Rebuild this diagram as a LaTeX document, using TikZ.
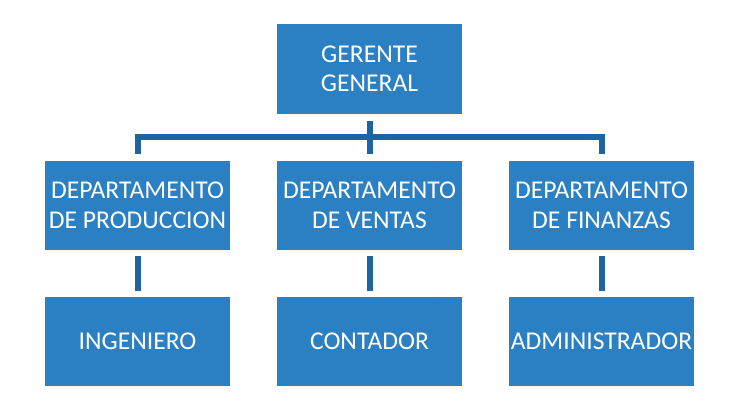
\documentclass[tikz,border=0pt]{standalone}
\usepackage{fontspec}
\setmainfont{Carlito}
\definecolor{boxfill}{RGB}{42,128,194}
\definecolor{linecol}{RGB}{30,100,160}
\begin{document}
\begin{tikzpicture}[x=1pt,y=-1pt,
  orgbox/.style={fill=boxfill, draw=none, minimum width=185pt, minimum height=89pt,
    inner sep=0pt, text=white, align=center,
    font=\fontsize{25.6pt}{29.5pt}\selectfont},
  conn/.style={draw=linecol, line width=6pt, line join=miter}]
\useasboundingbox (0,0) rectangle (732,419);
\node[orgbox, minimum height=90pt] (top) at (369.5,69) {GERENTE\\GENERAL};
\node[orgbox] (m1) at (137.5,205.5) {DEPARTAMENTO\\DE PRODUCCION};
\node[orgbox] (m2) at (369.5,205.5) {DEPARTAMENTO\\DE VENTAS};
\node[orgbox] (m3) at (601.5,205.5) {DEPARTAMENTO\\DE FINANZAS};
\node[orgbox] (b1) at (137.5,341.5) {INGENIERO};
\node[orgbox] (b2) at (369.5,341.5) {CONTADOR};
\node[orgbox] (b3) at (601.5,341.5) {ADMINISTRADOR};
\draw[conn, shorten <=7pt, shorten >=7pt] (top) -- (m2);
\draw[conn] ([yshift=7pt]m1.north) -- ([yshift=23.5pt]m1.north) -| ([yshift=7pt]m3.north);
\draw[conn, shorten <=6pt, shorten >=6pt] (m1) -- (b1);
\draw[conn, shorten <=6pt, shorten >=6pt] (m2) -- (b2);
\draw[conn, shorten <=6pt, shorten >=6pt] (m3) -- (b3);
\end{tikzpicture}
\end{document}
